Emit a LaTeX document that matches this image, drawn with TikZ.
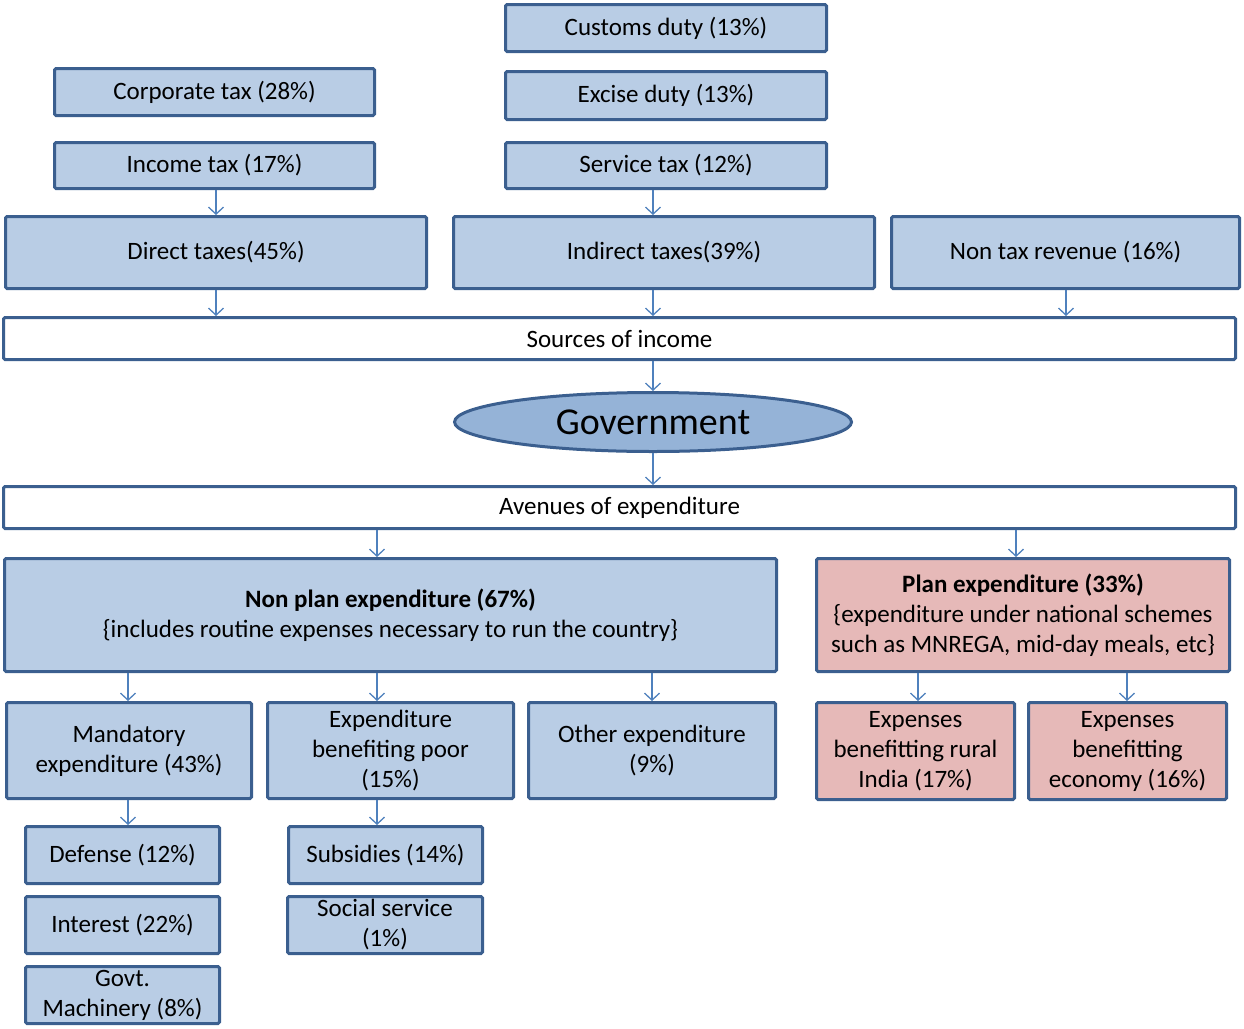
\documentclass[tikz,border=0pt]{standalone}
\usepackage{fontspec}
\setmainfont{Carlito}
\usetikzlibrary{arrows.meta,shapes.geometric}
\definecolor{bord}{HTML}{3B5F8F}
\definecolor{bfill}{HTML}{B9CDE5}
\definecolor{pfill}{HTML}{E6B9B8}
\definecolor{gfill}{HTML}{95B3D7}
\definecolor{arrc}{HTML}{4F81BD}
\begin{document}
\begin{tikzpicture}[x=1pt,y=-1pt,
  bx/.style={draw=bord,line width=3pt,fill=bfill,rounded corners=1.5pt,inner sep=0pt,align=center,
    font=\fontsize{25}{30}\selectfont},
  wbx/.style={bx,fill=white},
  pbx/.style={bx,fill=pfill},
  arr/.style={draw=arrc,line width=1.3pt,-{Straight Barb[length=7pt,width=15pt]}}]
\useasboundingbox (0,0) rectangle (1244,1028);
% top
\node[bx,minimum width=321pt,minimum height=47pt] (cus) at (666,28) {Customs duty (13\%)};
\node[bx,minimum width=321pt,minimum height=48pt] (exc) at (666,95.5) {Excise duty (13\%)};
\node[bx,minimum width=321pt,minimum height=46pt] (ser) at (666,165.5) {Service tax (12\%)};
\node[bx,minimum width=320pt,minimum height=47pt] (cor) at (214.5,92) {Corporate tax (28\%)};
\node[bx,minimum width=320pt,minimum height=46pt] (inc) at (214.5,165.5) {Income tax (17\%)};
\node[bx,minimum width=421pt,minimum height=72pt] (dir) at (216,252.5) {Direct taxes(45\%)};
\node[bx,minimum width=421pt,minimum height=72pt] (ind) at (664,252.5) {Indirect taxes(39\%)};
\node[bx,minimum width=348pt,minimum height=72pt] (non) at (1065.5,252.5) {Non tax revenue (16\%)};
\node[wbx,minimum width=1232pt,minimum height=42pt] (src) at (619.5,338.5) {Sources of income};
\node[draw=bord,line width=3pt,fill=gfill,ellipse,inner sep=0pt,minimum width=397pt,minimum height=59pt,
  font=\fontsize{38}{44}\selectfont] (gov) at (653,422) {Government};
\node[wbx,minimum width=1232pt,minimum height=42pt] (av) at (619.5,507.5) {Avenues of expenditure};
% expenditure
\node[bx,minimum width=772pt,minimum height=113pt] (np) at (390.5,615)
  {\textbf{Non plan expenditure (67\%)}\\\{includes routine expenses necessary to run the country\}};
\node[pbx,minimum width=413pt,minimum height=113pt] (pl) at (1023,615)
  {\textbf{Plan expenditure (33\%)}\\\{expenditure under national schemes\\such as MNREGA, mid-day meals, etc\}};
\node[bx,minimum width=245pt,minimum height=96pt] (man) at (129,750.5) {Mandatory\\expenditure (43\%)};
\node[bx,minimum width=246pt,minimum height=96pt] (poor) at (390.5,750.5) {Expenditure\\benefiting poor\\(15\%)};
\node[bx,minimum width=247pt,minimum height=96pt] (oth) at (652,750.5) {Other expenditure\\(9\%)};
\node[pbx,minimum width=198pt,minimum height=97pt] (rur) at (915.5,751) {Expenses\\benefitting rural\\India (17\%)};
\node[pbx,minimum width=198pt,minimum height=97pt] (eco) at (1127.5,751) {Expenses\\benefitting\\economy (16\%)};
\node[bx,minimum width=194pt,minimum height=57pt] (def) at (122.5,855) {Defense (12\%)};
\node[bx,minimum width=194pt,minimum height=57pt] (int) at (122.5,925) {Interest (22\%)};
\node[bx,minimum width=194pt,minimum height=57pt] (gm) at (122.5,995) {Govt.\\Machinery (8\%)};
\node[bx,minimum width=194pt,minimum height=57pt] (sub) at (385.5,855) {Subsidies (14\%)};
\node[bx,minimum width=195pt,minimum height=57pt] (soc) at (385,925) {Social service\\(1\%)};
% arrows
\draw[arr] (inc.south -| 216,0) -- (dir.north -| 216,0);
\draw[arr] (ser.south -| 653,0) -- (ind.north -| 653,0);
\draw[arr] (dir.south -| 216,0) -- (src.north -| 216,0);
\draw[arr] (ind.south -| 653,0) -- (src.north -| 653,0);
\draw[arr] (non.south -| 1066,0) -- (src.north -| 1066,0);
\draw[arr] (src.south -| 653,0) -- (gov.north -| 653,0);
\draw[arr] (gov.south -| 653,0) -- (av.north -| 653,0);
\draw[arr] (av.south -| 377,0) -- (np.north -| 377,0);
\draw[arr] (av.south -| 1016,0) -- (pl.north -| 1016,0);
\draw[arr] (np.south -| 128,0) -- (man.north -| 128,0);
\draw[arr] (np.south -| 377,0) -- (poor.north -| 377,0);
\draw[arr] (np.south -| 652,0) -- (oth.north -| 652,0);
\draw[arr] (pl.south -| 918,0) -- (rur.north -| 918,0);
\draw[arr] (pl.south -| 1127,0) -- (eco.north -| 1127,0);
\draw[arr] (man.south -| 128,0) -- (def.north -| 128,0);
\draw[arr] (poor.south -| 377,0) -- (sub.north -| 377,0);
\end{tikzpicture}
\end{document}
